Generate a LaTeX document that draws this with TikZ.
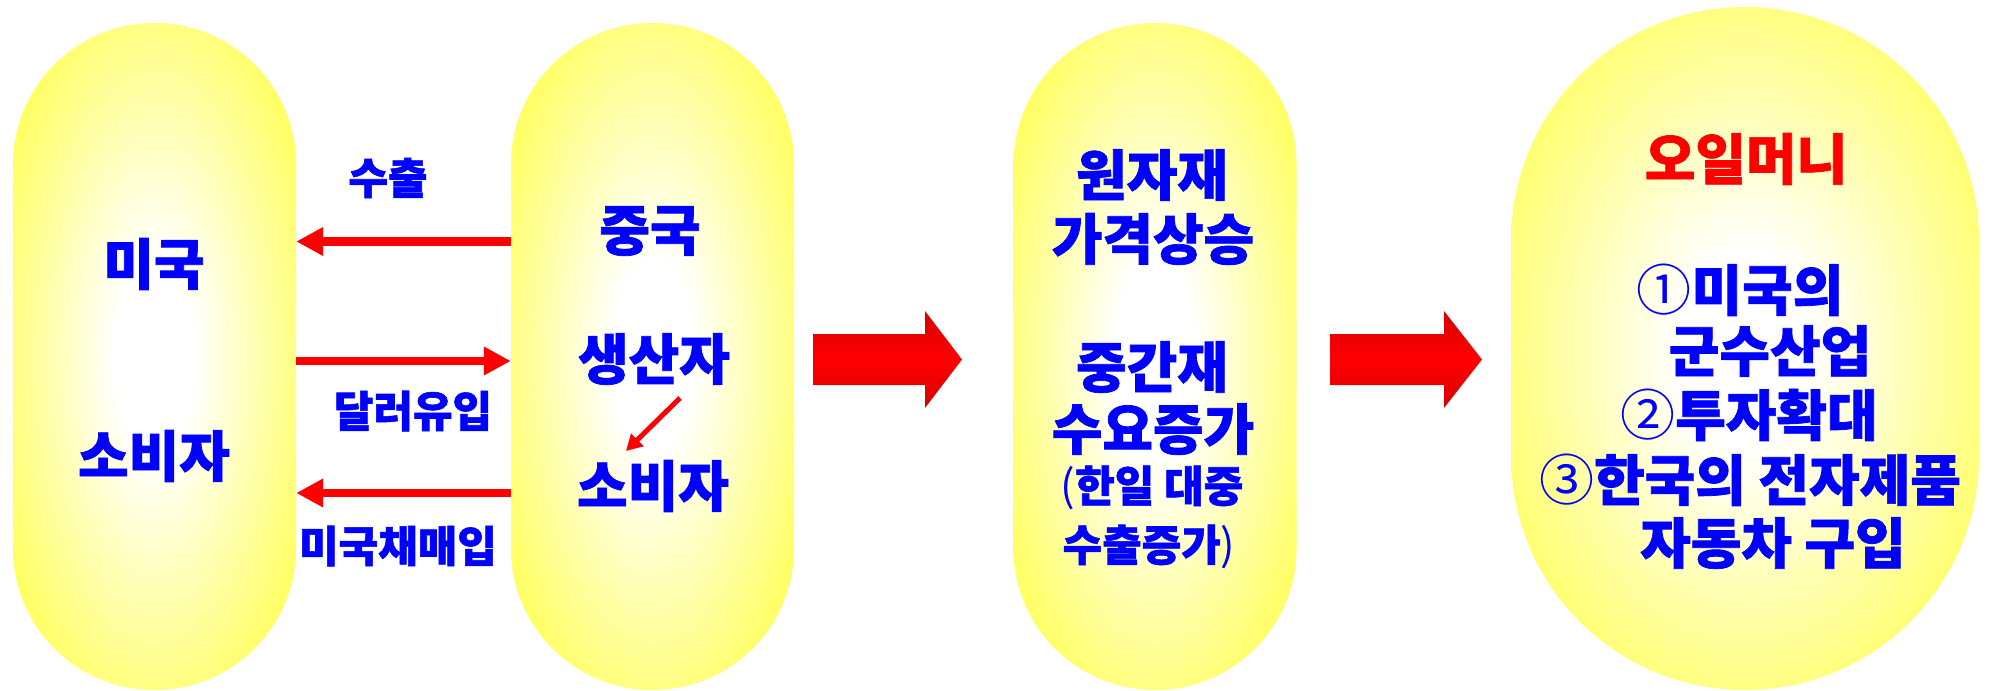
\documentclass[tikz,border=0pt]{standalone}
\usepackage{fontspec}
\setmainfont{Noto Sans CJK KR}[BoldFeatures={FakeBold=1.3}]
\usetikzlibrary{arrows.meta}
\definecolor{ylw}{RGB}{255,255,102}
\definecolor{txtblue}{RGB}{0,0,255}
\definecolor{txtred}{RGB}{255,0,0}
\definecolor{dkred}{RGB}{115,0,0}
\definecolor{midred}{RGB}{210,0,0}
\definecolor{arrred}{RGB}{255,0,0}
\pgfdeclareradialshading{pillshade}{\pgfpoint{0bp}{0bp}}{color(0bp)=(white); color(7bp)=(white); color(29bp)=(ylw); color(50bp)=(ylw)}
\pgfdeclareverticalshading{blockshade}{100bp}{color(0bp)=(dkred); color(22bp)=(midred); color(50bp)=(arrred); color(78bp)=(midred); color(100bp)=(dkred)}
\begin{document}
\begin{tikzpicture}[x=1bp,y=-1bp,
  pill/.style={rectangle, shade, shading=pillshade, inner sep=0pt,
    minimum width=283bp, minimum height=667bp, rounded corners=141.5bp},
  big/.style={font=\fontsize{55bp}{62bp}\selectfont\bfseries, text=txtblue, inner sep=0pt},
  small/.style={font=\fontsize{43bp}{50bp}\selectfont\bfseries, text=txtblue, inner sep=0pt},
  link/.style={draw=arrred, line width=8.5bp, -{Triangle[length=27bp,width=27bp]}},
  minilink/.style={draw=arrred, line width=5bp, -{Triangle[length=16bp,width=17bp]}},
  block/.style={shade, shading=blockshade}]
\fill[white] (0,0) rectangle (1989,691);
\useasboundingbox (0,0) rectangle (1989,691);

% pills
\node[pill] (usa) at (154.5,356.5) {};
\node[pill] (china) at (652.5,356.5) {};
\node[pill] (raw) at (1155,356.5) {};
\node[pill, minimum width=468bp, minimum height=683bp, rounded corners=234bp] (oil) at (1745,348.5) {};

% helper rows
\coordinate (r1) at (0,241.5);
\coordinate (r2) at (0,361);
\coordinate (r3) at (0,493);

% thin connectors
\draw[link] (china.west |- r1) -- (usa.east |- r1);
\draw[link] (usa.east |- r2) -- (china.west |- r2);
\draw[link] (china.west |- r3) -- (usa.east |- r3);

% texts left
\node[big] (usaT) at (154,264) {미국};
\node[big] (usaC) at (154,456) {소비자};
\node[small] (lbl1) at (388,178) {수출};
\node[small] (lbl2) at (413,411) {달러유입};
\node[small] (lbl3) at (398,546) {미국채매입};
\node[big] (chT) at (650,231) {중국};
\node[big] (chP) at (654,359) {생산자};
\node[big] (chC) at (653,486) {소비자};
\coordinate (sa) at (680,398);
\coordinate (sb) at (626,451);
\draw[minilink] (sa) -- (sb);

% block arrows
\path[block] (813,334) -- (925,334) -- (925,311) -- (962,359.5) -- (925,408) -- (925,385) -- (813,385) -- cycle;
\path[block] (1330,334) -- (1444,334) -- (1444,311) -- (1482,359.5) -- (1444,408) -- (1444,385) -- (1330,385) -- cycle;

% third pill
\node[big] (rw1) at (1152,175) {원자재};
\node[big] (rw2) at (1153,239) {가격상승};
\node[big] (rw3) at (1152,367) {중간재};
\node[big] (rw4) at (1153,429) {수요증가};
\node[small] (rw5) at (1152,488) {{\mdseries(}한일 대중};
\node[small] (rw6) at (1149,547) {수출증가{\mdseries)}};

% fourth shape
\node[big, text=txtred] (oilT) at (1746,159) {오일머니};
\node[big] (o1) at (1740,290) {{\mdseries ①}미국의};
\node[big] (o2) at (1770,351) {군수산업};
\node[big] (o3) at (1749,415) {{\mdseries ②}투자확대};
\node[big] (o4) at (1750,480) {{\mdseries ③}한국의 전자제품};
\node[big] (o5) at (1773,543) {자동차 구입};
\end{tikzpicture}
\end{document}
